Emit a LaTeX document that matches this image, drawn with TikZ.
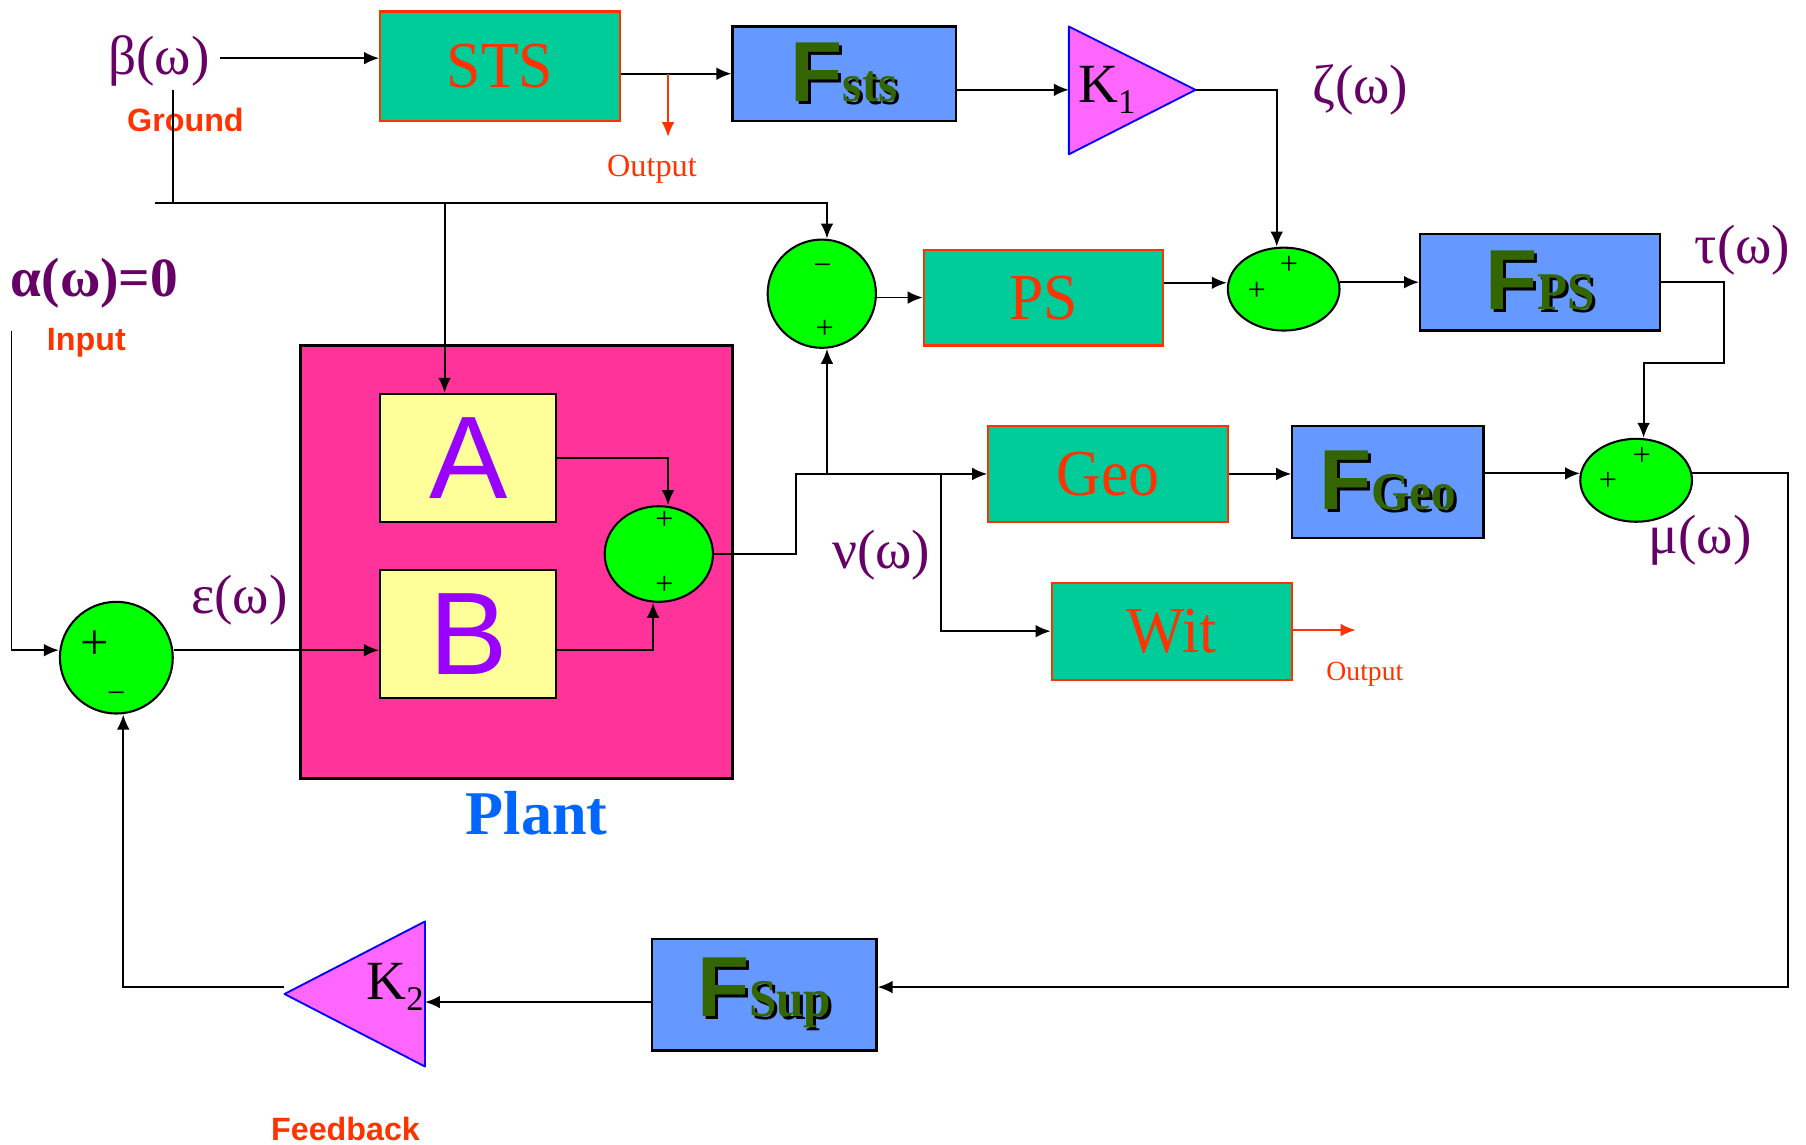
\documentclass[tikz,border=0pt]{standalone}
\usepackage{fontspec}
\setmainfont{Liberation Serif}
\setsansfont{Liberation Sans}
\usetikzlibrary{arrows.meta,shapes.geometric,calc}
\definecolor{teal}{HTML}{00CC99}
\definecolor{ored}{HTML}{FF3300}
\definecolor{fblue}{HTML}{6699FF}
\definecolor{sgreen}{HTML}{00FF00}
\definecolor{tripink}{HTML}{FF66FF}
\definecolor{plantc}{HTML}{FF3399}
\definecolor{yel}{HTML}{FFFF99}
\definecolor{purp}{HTML}{660066}
\definecolor{abcol}{HTML}{9900FF}
\definecolor{fgreen}{HTML}{336600}
\definecolor{plantblue}{HTML}{0066FF}
\newcommand\fs[1]{\fontsize{#1}{#1}\selectfont}
\newcommand\shtext[1]{\makebox[0pt][l]{\hspace{1.3pt}\raisebox{-1.3pt}{\color{black}#1}}{\color{fgreen}#1}}
\newcommand\Ftxt[1]{\shtext{\sffamily\bfseries\fs{37}F}\shtext{\rmfamily\bfseries\fs{23}\scalebox{0.93}[1]{#1}}}
\newcommand\boxtxt[1]{\scalebox{0.94}[1]{#1}}
\tikzset{
  tealbox/.style={draw=ored, fill=teal, line width=0.9pt, inner sep=0pt, text=ored, font=\rmfamily\fs{28.5}},
  bluebox/.style={draw=black, fill=fblue, line width=1pt, inner sep=0pt},
  yelbox/.style={draw=black, fill=yel, line width=1pt, inner sep=0pt, text=abcol, font=\sffamily\fs{51}},
  sumnode/.style={ellipse, draw=black, fill=sgreen, line width=0.9pt, inner sep=0pt},
  arr/.style={-{Latex[length=6.5pt,width=5.5pt]}, line width=0.8pt},
  redarr/.style={-{Latex[length=6.5pt,width=5.5pt]}, line width=0.8pt, draw=ored},
  lbl/.style={text=purp, font=\rmfamily\fs{24}, inner sep=0pt},
  redsans/.style={text=ored, font=\sffamily\bfseries\fs{14}, inner sep=0pt},
  outlbl/.style={text=ored, font=\rmfamily\fs{14}, inner sep=0pt},
  sgn/.style={font=\rmfamily\fs{14}, inner sep=0pt},
  tri/.style={draw=blue, fill=tripink, line width=0.8pt, line join=round},
}
\begin{document}
\begin{tikzpicture}[x=0.5pt,y=-0.5pt]
\useasboundingbox (0,0) rectangle (1568,994);

% ---------- boxes ----------
\node[draw=black, fill=plantc, line width=1pt, minimum width=187.5pt, minimum height=188pt] (Plant) at (448.5,488) {};
\node[yelbox, minimum width=76.5pt, minimum height=55.5pt] (A) at (406.5,397.5) {A};
\node[yelbox, minimum width=76.5pt, minimum height=55.5pt] (B) at (406.5,550.5) {B};

\node[tealbox, minimum width=104pt, minimum height=47.5pt] (STS) at (434,57.5) {\boxtxt{STS}};
\node[bluebox, minimum width=97pt, minimum height=41pt] (Fsts) at (733,64) {\Ftxt{sts}};
\node[tealbox, minimum width=104pt, minimum height=41.5pt] (PS) at (906,258.5) {\boxtxt{PS}};
\node[bluebox, minimum width=104pt, minimum height=42pt] (FPS) at (1337,245) {\Ftxt{PS}};
\node[tealbox, minimum width=104pt, minimum height=41.5pt] (Geo) at (962,411.5) {\boxtxt{Geo}};
\node[bluebox, minimum width=83pt, minimum height=48.5pt] (FGeo) at (1205,418.5) {\Ftxt{Geo}};
\node[tealbox, minimum width=104.5pt, minimum height=42pt] (Wit) at (1017.5,548) {\boxtxt{Wit}};
\node[bluebox, minimum width=97.5pt, minimum height=48.5pt] (FSup) at (663.5,863.5) {\Ftxt{Sup}};

% ---------- summing junctions ----------
\node[sumnode, minimum width=49pt, minimum height=48.5pt] (S0) at (101,571) {};
\node[sumnode, minimum width=47pt, minimum height=41.5pt] (SP) at (572,481) {};
\node[sumnode, minimum width=47pt, minimum height=47pt] (S1) at (713.5,255) {};
\node[sumnode, minimum width=48.5pt, minimum height=36pt] (S2) at (1114.5,251) {};
\node[sumnode, minimum width=48.5pt, minimum height=36pt] (S3) at (1420.5,417) {};

\node[sgn, font=\rmfamily\fs{22}] (s0p) at (82,560) {+};
\node[sgn] (s0m) at (101,606) {−};
\node[sgn] (spa) at (577,452) {+};
\node[sgn] (spb) at (577,508) {+};
\node[sgn] (s1m) at (714,234) {−};
\node[sgn] (s1p) at (716,286) {+};
\node[sgn] (s2a) at (1119,230) {+};
\node[sgn] (s2b) at (1091,253) {+};
\node[sgn] (s3a) at (1425.5,396) {+};
\node[sgn] (s3b) at (1396,418) {+};

% ---------- gains ----------
\coordinate (K1in) at (928,78);
\coordinate (K1out) at (1038,78);
\draw[tri] (928,23) -- (K1out) -- (928,134) -- cycle;
\node[inner sep=0pt, font=\rmfamily\fs{24}] (K1) at (961,78) {K\raisebox{-5pt}{\fs{15}1}};
\coordinate (K2r) at (369,870);
\coordinate (K2tip) at (247,857);
\draw[tri] (369,800) -- (247,863) -- (369,926) -- cycle;
\node[inner sep=0pt, font=\rmfamily\fs{24}] (K2) at (343,857) {K\raisebox{-5pt}{\fs{15}2}};

% ---------- labels ----------
\node[lbl] (beta) at (138,53) {β(ω)};
\node[redsans] (ground) at (161,104) {Ground};
\node[lbl, font=\rmfamily\bfseries\fs{24}] (alpha) at (82,246) {α(ω)=0};
\node[redsans] (input) at (75,298) {Input};
\node[lbl] (zeta) at (1181,78) {ζ(ω)};
\node[lbl] (tau) at (1513,217) {τ(ω)};
\node[lbl] (mu) at (1476,469) {μ(ω)};
\node[lbl] (nu) at (765,482) {ν(ω)};
\node[lbl] (eps) at (208,521) {ε(ω)};
\node[inner sep=0pt, text=plantblue, font=\rmfamily\bfseries\fs{27}] (plantl) at (466,706) {Plant};
\node[redsans] (fb) at (300,980) {Feedback};
\node[outlbl] (out1) at (566,147) {Output};
\node[outlbl, font=\rmfamily\fs{12}] (out2) at (1185,585) {Output};

% ---------- coordinates ----------
\coordinate (Bo) at (191,50.5);
\coordinate (Oj) at (580,64);
\coordinate (Oe) at (580,119);
\coordinate (Zc) at (1108.5,78);
\coordinate (Gt) at (150,78);
\coordinate (Gb) at (150,176);
\coordinate (G0) at (135,176);
\coordinate (G1) at (718,176);
\coordinate (GA) at (386,176);
\coordinate (Aj) at (580,398);
\coordinate (Bj) at (567,564.5);
\coordinate (J1) at (691,411.5);
\coordinate (J2) at (718,411.5);
\coordinate (J3) at (817,411.5);
\coordinate (WO) at (1177,547);
\coordinate (P2) at (1040,245.5);
\coordinate (T1) at (1497,245);
\coordinate (T2) at (1497,315);
\coordinate (T3) at (1427,315);
\coordinate (R2) at (1552,857);
\coordinate (Fc) at (107,857);
\coordinate (In0) at (10,287);
\coordinate (In1) at (10,564.5);

% ---------- connectors ----------
\draw[arr] (Bo) -- (Bo -| STS.west);
\draw[arr] (STS.east |- Oj) -- (Fsts.west |- Oj);
\draw[redarr] (Oj) -- (Oe);
\draw[arr] (Fsts.east |- K1in) -- (K1in);
\draw[arr] (K1out) -- (Zc) -- (Zc |- S2.north);
\draw[line width=0.8pt] (Gt) -- (Gb);
\draw[arr] (G0) -- (G1) -- (G1 |- S1.north);
\draw[arr] (GA) -- (GA |- A.north);
\draw[arr] (S1.-4) -- (S1.-4 -| PS.west);
\draw[arr] (PS.east |- P2) -- (P2 -| S2.west);
\draw[arr] (S2.7) -- (S2.7 -| FPS.west);
\draw[arr] (FPS.east) -- (T1) -- (T2) -- (T3) -- (T3 |- S3.north);
\draw[arr] (A.east |- Aj) -- (Aj) -- (Aj |- SP.north);
\draw[arr] (B.east |- Bj) -- (Bj) -- (Bj |- SP.south);
\draw[arr] (SP.east) -| (J1) -- (Geo.west);
\draw[arr] (J2) -- (J2 |- S1.south);
\draw[arr] (J3) |- (Wit.west);
\draw[arr] (Geo.east) -- (Geo.east -| FGeo.west);
\draw[arr] (FGeo.east |- S3.173) -- (S3.173);
\draw[redarr] (WO -| Wit.east) -- (WO);
\draw[arr] (S3.7) -| (R2) -- (R2 -| FSup.east);
\draw[arr] (FSup.west |- K2r) -- (K2r);
\draw[arr] (K2tip) -- (Fc) -- (Fc |- S0.south);
\draw[arr] (In0) -- (In1) -- (In1 -| S0.west);
\draw[arr] (S0.east |- In1) -- (In1 -| B.west);
\end{tikzpicture}
\end{document}
